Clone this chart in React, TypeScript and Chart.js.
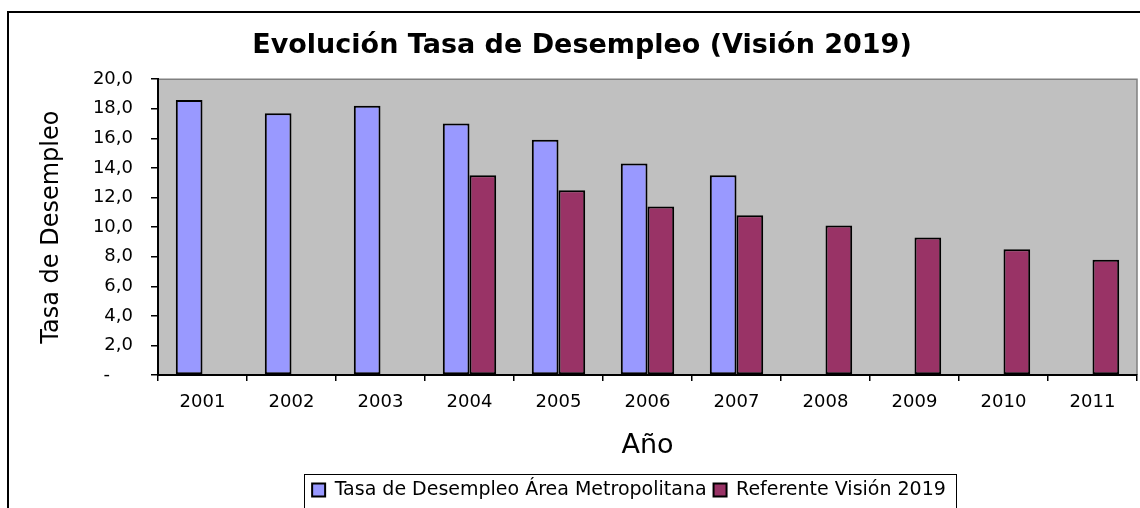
import React, { useEffect, useRef } from 'react';
import { Chart, registerables } from 'chart.js';

Chart.register(...registerables);

// ---- data ----
const years = ['2001', '2002', '2003', '2004', '2005', '2006', '2007', '2008', '2009', '2010', '2011'];
const tasaAreaMetropolitana = [18.6, 17.7, 18.2, 17.0, 15.9, 14.3, 13.5, null, null, null, null];
const referenteVision2019 = [null, null, null, 13.5, 12.5, 11.4, 10.8, 10.1, 9.3, 8.5, 7.8];
const seriesNames = ['Tasa de Desempleo Área Metropolitana', 'Referente Visión 2019'];
const chartTitle = 'Evolución Tasa de Desempleo (Visión 2019)';
const yAxisTitle = 'Tasa de Desempleo';
const xAxisTitle = 'Año';
const yMin = 0;
const yMax = 20;
const yStep = 2;
const zeroLabel = '-\u2007\u2007';

// ---- style ----
const FONT = "'DejaVu Sans', sans-serif";
const W = 1140;
const H = 508;
const LEGEND_SHIFT = 47;

const formatY = (v: number) => (v === 0 ? zeroLabel : v.toFixed(1).replace('.', ','));

const decor = {
  id: 'decor',
  afterLayout(chart: any) {
    const lg = chart.legend;
    if (lg) {
      lg.left += LEGEND_SHIFT;
      lg.right += LEGEND_SHIFT;
    }
  },
  beforeDraw(chart: any) {
    const { ctx, chartArea: a } = chart;
    ctx.save();
    ctx.fillStyle = '#ffffff';
    ctx.fillRect(0, 0, chart.width, chart.height);
    ctx.fillStyle = '#C0C0C0';
    ctx.fillRect(a.left, a.top, a.right - a.left, a.bottom - a.top);
    ctx.strokeStyle = '#808080';
    ctx.lineWidth = 1.5;
    ctx.beginPath();
    ctx.moveTo(a.left, a.top);
    ctx.lineTo(a.right, a.top);
    ctx.lineTo(a.right, a.bottom);
    ctx.stroke();
    ctx.strokeStyle = '#000000';
    ctx.lineWidth = 2;
    ctx.strokeRect(8, 12, chart.width + 50, chart.height + 50);
    ctx.restore();
  },
  afterDraw(chart: any) {
    const lg = chart.legend;
    if (!lg || !lg.lineWidths) return;
    const p = lg.options.labels.padding;
    const lw = lg.lineWidths[0];
    const x0 = (lg.left + p + lg.right - lw) / 2;
    const x1 = x0 + lw - p;
    const { ctx } = chart;
    ctx.save();
    ctx.strokeStyle = '#000000';
    ctx.lineWidth = 1;
    ctx.strokeRect(Math.round(x0 - 8) + 0.5, Math.round(lg.top) + 0.5, Math.round(x1 - x0 + 18), 60);
    ctx.restore();
  },
};

export default function App() {
  const ref = useRef<HTMLCanvasElement | null>(null);

  useEffect(() => {
    if (!ref.current) return;
    const chart = new Chart(ref.current, {
      type: 'bar',
      data: {
        labels: years,
        datasets: [
          {
            label: seriesNames[0],
            data: tasaAreaMetropolitana,
            backgroundColor: '#9999FF',
            borderColor: '#000000',
            borderWidth: 2,
            borderSkipped: false,
            categoryPercentage: 0.6,
            barPercentage: 1,
          },
          {
            label: seriesNames[1],
            data: referenteVision2019,
            backgroundColor: '#993366',
            borderColor: '#000000',
            borderWidth: 2,
            borderSkipped: false,
            categoryPercentage: 0.6,
            barPercentage: 1,
          },
        ],
      },
      options: {
        responsive: false,
        animation: false,
        devicePixelRatio: 1,
        layout: { padding: { left: 27, right: 3, top: 0, bottom: -1.5 } },
        plugins: {
          title: {
            display: true,
            text: chartTitle,
            color: '#000000',
            font: { family: FONT, size: 27, weight: 'bold' },
            padding: { top: 29.5, bottom: 17.3 },
          },
          legend: {
            display: true,
            position: 'bottom',
            labels: {
              color: '#000000',
              font: { family: FONT, size: 19 },
              boxWidth: 13,
              boxHeight: 13,
              padding: 7,
            },
          },
          tooltip: { enabled: false },
        },
        scales: {
          x: {
            type: 'category',
            offset: true,
            grid: {
              display: true,
              offset: true,
              drawOnChartArea: false,
              drawTicks: true,
              tickLength: 6,
              color: '#000000',
              lineWidth: 1.5,
            },
            border: { display: true, color: '#000000', width: 2 },
            ticks: {
              color: '#000000',
              font: { family: FONT, size: 18 },
              padding: 10.5,
              maxRotation: 0,
              autoSkip: false,
            },
            title: {
              display: true,
              text: xAxisTitle,
              color: '#000000',
              font: { family: FONT, size: 27 },
              padding: { top: 0, bottom: 11.3 },
            },
            afterFit: (scale: any) => {
              scale.height = 98.5;
            },
          },
          y: {
            min: yMin,
            max: yMax,
            grid: {
              display: true,
              drawOnChartArea: false,
              drawTicks: true,
              tickLength: 7,
              color: '#000000',
              lineWidth: 1.5,
            },
            border: { display: true, color: '#000000', width: 2 },
            ticks: {
              stepSize: yStep,
              color: '#000000',
              font: { family: FONT, size: 18 },
              padding: 18,
              callback: (v: any) => formatY(Number(v)),
            },
            title: {
              display: true,
              text: yAxisTitle,
              color: '#000000',
              font: { family: FONT, size: 24 },
              padding: { top: 10.5, bottom: 0 },
            },
            afterFit: (scale: any) => {
              scale.width = 131;
            },
          },
        },
      },
      plugins: [decor],
    } as any);
    return () => chart.destroy();
  }, []);

  return (
    <div style={{ position: 'absolute', left: 0, top: 0, width: W, height: H, background: '#fff' }}>
      <canvas ref={ref} width={W} height={H} style={{ width: W, height: H, display: 'block' }} />
    </div>
  );
}
